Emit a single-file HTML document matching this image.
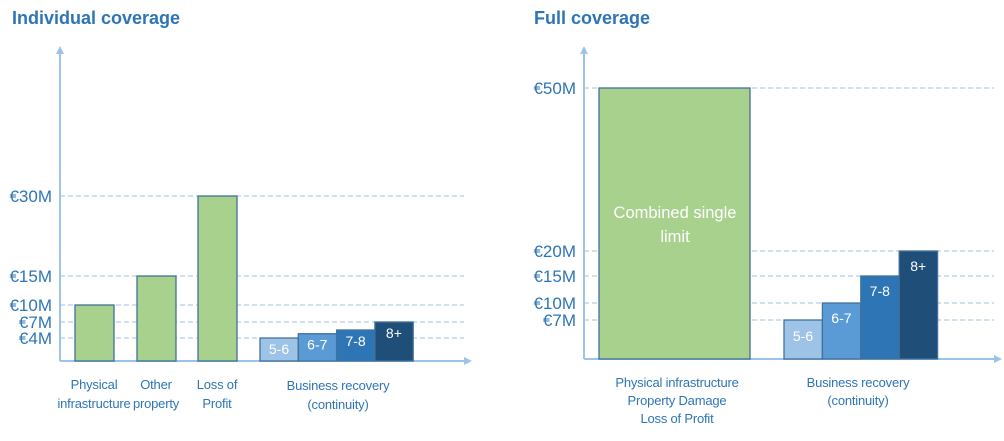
<!DOCTYPE html>
<html><head><meta charset="utf-8"><style>
body{margin:0;background:#fff;font-family:"Liberation Sans",sans-serif}
svg text{font-family:"Liberation Sans",sans-serif}
</style></head><body>
<svg id="c" width="1004" height="436" xmlns="http://www.w3.org/2000/svg">
<text x="12" y="24" font-size="18" font-weight="bold" fill="#2e75b6">Individual coverage</text>
<text x="534" y="24" font-size="18" font-weight="bold" fill="#2e75b6">Full coverage</text>
</svg>
<script>
// Left chart data
const leftTicks=[4,7,10,15,30];
const leftTickY=[338,322,305,276,196]; // axis scale anchor positions (diagram scale)
const leftCats=["Physical|infrastructure","Other|property","Loss of|Profit"];
const leftVals=[10,15,30];
const leftBR=[4,4.8,5.5,7];
const brLabels=["5-6","6-7","7-8","8+"];
// Right chart data
const rightTicks=[7,10,15,20,50];
const rightTickY=[320,303,276,251,88];
const rightCombined=50;
const rightBR=[7,10,15,20];
const brColors=["#9dc3e6","#5b9bd5","#2e75b6","#1f4e79"];
const NS="http://www.w3.org/2000/svg";
const svg=document.getElementById('c');
function mk(t,a,p){const e=document.createElementNS(NS,t);for(const k in a)e.setAttribute(k,a[k]);(p||svg).appendChild(e);return e;}
function scale(ticks,ys,base){const d=[0,...ticks],r=[base,...ys];return v=>{for(let i=1;i<d.length;i++){if(v<=d[i]||i==d.length-1){return r[i-1]+(v-d[i-1])/(d[i]-d[i-1])*(r[i]-r[i-1]);}}};}
function axes(x0,base,xEnd,ticks,ys,name){
  const y=scale(ticks,ys,base);
  ticks.forEach((t,i)=>{
    const l=mk('line',{x1:x0,x2:xEnd-8,y1:y(t),y2:y(t),stroke:'#9dc3e6','stroke-dasharray':'5,3','stroke-width':1});
    
    
    const tx=mk('text',{x:x0-8,y:y(t)+6,'text-anchor':'end','font-size':17,fill:'#2e75b6'});
    tx.textContent='€'+t+'M';
    
    
  });
  const ya=mk('line',{x1:x0,x2:x0,y1:base,y2:52,stroke:'#9dc3e6','stroke-width':2});
  
  
  mk('polygon',{points:`${x0-4},54 ${x0+4},54 ${x0},46`,fill:'#9dc3e6'});
  const xa=mk('line',{x1:x0,x2:xEnd-6,y1:base,y2:base,stroke:'#9dc3e6','stroke-width':2});
  
  
  mk('polygon',{points:`${xEnd-8},${base-4} ${xEnd-8},${base+4} ${xEnd},${base}`,fill:'#9dc3e6'});
  return y;
}
function bar(x,w,v,y,base,fill,name){
  const r=mk('rect',{x:x,y:y(v),width:w,height:base-y(v),fill:fill,stroke:'#41719c','stroke-width':1.3});
  
  
  return r;
}
function label(lines,cx,y0,name,lh){
  const t=mk('text',{x:cx,y:y0,'text-anchor':'middle','font-size':13,'letter-spacing':'-0.2',fill:'#2e75b6'});
  lines.forEach((s,i)=>{const ts=mk('tspan',{x:cx,dy:i?lh:0},t);ts.textContent=s;});
  
  
}
// LEFT
const LB=361;
const yl=axes(60,LB,472,leftTicks,leftTickY,'left');
const lx=[75,137,198];
leftVals.forEach((v,i)=>{
  bar(lx[i],39,v,yl,LB,'#a9d18e','left-bar-'+i);
  label(leftCats[i].split('|'),lx[i]+19,389,'left-x-label-'+i,19);
});
leftBR.forEach((v,i)=>{
  const x=260+i*38.3;
  bar(x,38.3,v,yl,LB,brColors[i],'left-br-bar-'+brLabels[i]);
  const t=mk('text',{x:x+19,y:Math.min(yl(v)+16,LB-5),'text-anchor':'middle','font-size':14,fill:'#fff'});
  t.textContent=brLabels[i];
  
  
});
label(["Business recovery","(continuity)"],338,390,'left-br-x-label',19);
// RIGHT
const RB=359;
const yr=axes(584,RB,1002,rightTicks,rightTickY,'right');
bar(599,151,rightCombined,yr,RB,'#a9d18e','combined-single-limit-bar');
const ct=mk('text',{x:675,y:218,'text-anchor':'middle','font-size':16.5,fill:'#fff'});
const t1=mk('tspan',{x:675,dy:0},ct);t1.textContent='Combined single';
const t2=mk('tspan',{x:675,dy:24},ct);t2.textContent='limit';


rightBR.forEach((v,i)=>{
  const x=784+i*38.4;
  bar(x,38.4,v,yr,RB,brColors[i],'right-br-bar-'+brLabels[i]);
  const t=mk('text',{x:x+19,y:i==0?341:yr(v)+20,'text-anchor':'middle','font-size':14,fill:'#fff'});
  t.textContent=brLabels[i];
  
  
});
label(["Physical infrastructure","Property Damage","Loss of Profit"],677,387,'right-x-label-combined',18);
label(["Business recovery","(continuity)"],858,387,'right-br-x-label',18);
</script>
</body></html>
